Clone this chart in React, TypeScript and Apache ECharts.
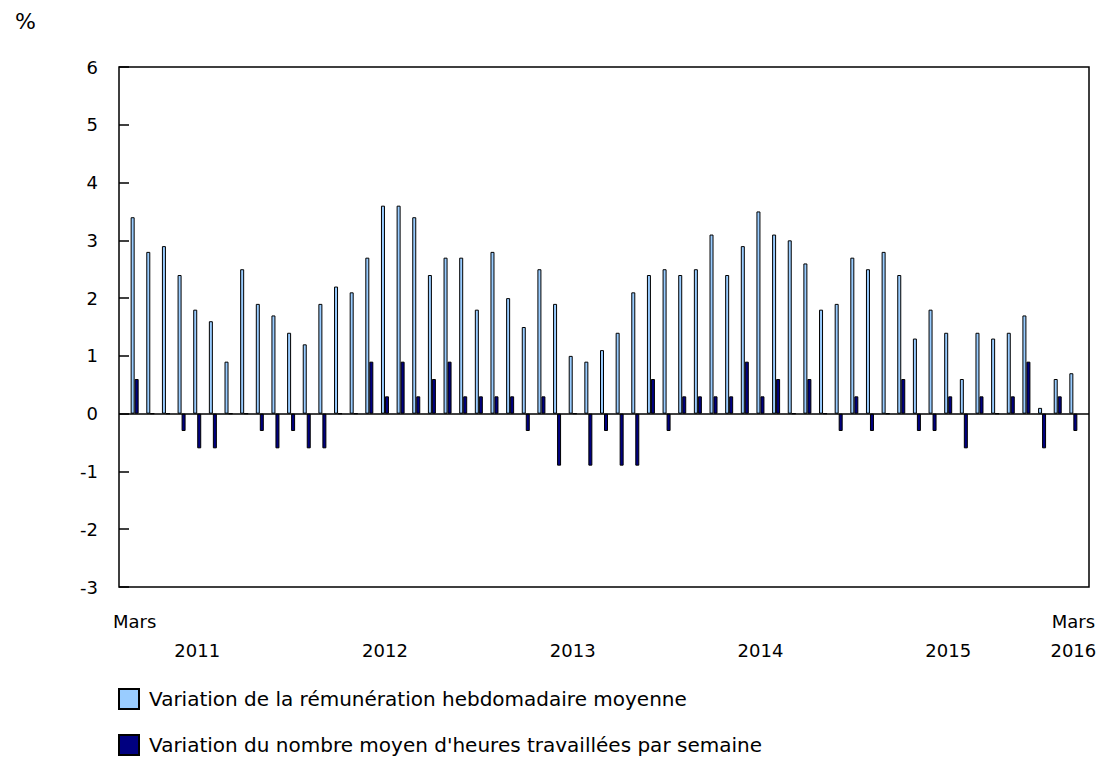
import React, { useEffect, useRef } from 'react';
import * as echarts from 'echarts';

const months: string[] = [
  'mars 2011', 'avr. 2011', 'mai 2011', 'juin 2011', 'juil. 2011', 'août 2011', 'sept. 2011', 'oct. 2011', 'nov. 2011', 'déc. 2011',
  'janv. 2012', 'févr. 2012', 'mars 2012', 'avr. 2012', 'mai 2012', 'juin 2012', 'juil. 2012', 'août 2012', 'sept. 2012', 'oct. 2012', 'nov. 2012', 'déc. 2012',
  'janv. 2013', 'févr. 2013', 'mars 2013', 'avr. 2013', 'mai 2013', 'juin 2013', 'juil. 2013', 'août 2013', 'sept. 2013', 'oct. 2013', 'nov. 2013', 'déc. 2013',
  'janv. 2014', 'févr. 2014', 'mars 2014', 'avr. 2014', 'mai 2014', 'juin 2014', 'juil. 2014', 'août 2014', 'sept. 2014', 'oct. 2014', 'nov. 2014', 'déc. 2014',
  'janv. 2015', 'févr. 2015', 'mars 2015', 'avr. 2015', 'mai 2015', 'juin 2015', 'juil. 2015', 'août 2015', 'sept. 2015', 'oct. 2015', 'nov. 2015', 'déc. 2015',
  'janv. 2016', 'févr. 2016', 'mars 2016',
];

const remuneration: number[] = [
  3.4, 2.8, 2.9, 2.4, 1.8, 1.6, 0.9, 2.5, 1.9, 1.7, 1.4, 1.2, 1.9, 2.2, 2.1,
  2.7, 3.6, 3.6, 3.4, 2.4, 2.7, 2.7, 1.8, 2.8, 2.0, 1.5, 2.5, 1.9, 1.0, 0.9,
  1.1, 1.4, 2.1, 2.4, 2.5, 2.4, 2.5, 3.1, 2.4, 2.9, 3.5, 3.1, 3.0, 2.6, 1.8,
  1.9, 2.7, 2.5, 2.8, 2.4, 1.3, 1.8, 1.4, 0.6, 1.4, 1.3, 1.4, 1.7, 0.1, 0.6, 0.7,
];

const heures: number[] = [
  0.6, 0, 0, -0.3, -0.6, -0.6, 0, 0, -0.3, -0.6, -0.3, -0.6, -0.6, 0, 0,
  0.9, 0.3, 0.9, 0.3, 0.6, 0.9, 0.3, 0.3, 0.3, 0.3, -0.3, 0.3, -0.9, 0, -0.9,
  -0.3, -0.9, -0.9, 0.6, -0.3, 0.3, 0.3, 0.3, 0.3, 0.9, 0.3, 0.6, 0, 0.6, 0,
  -0.3, 0.3, -0.3, 0, 0.6, -0.3, -0.3, 0.3, -0.6, 0.3, 0, 0.3, 0.9, -0.6, 0.3, -0.3,
];

const bottomLabels: Record<string, string> = {
  'mars 2011': 'Mars\n',
  'juil. 2011': '\n2011',
  'juil. 2012': '\n2012',
  'juil. 2013': '\n2013',
  'juil. 2014': '\n2014',
  'juil. 2015': '\n2015',
  'mars 2016': 'Mars\n2016',
};

const seriesNames = [
  'Variation de la rémunération hebdomadaire moyenne',
  "Variation du nombre moyen d'heures travaillées par semaine",
];

const yMin = -3;
const yMax = 6;
const yStep = 1;

const FONT = 'DejaVu Sans';

const legendFor = (name: string, top: number) => ({
  orient: 'vertical',
  left: 118,
  top,
  padding: 0,
  itemWidth: 20,
  itemHeight: 20,
  icon: 'rect',
  data: [name],
  selectedMode: false,
  textStyle: { fontFamily: FONT, fontSize: 20, color: '#000', lineHeight: 22, padding: [0, 0, 0, 5] },
});

export default function App() {
  const ref = useRef<HTMLDivElement>(null);
  useEffect(() => {
    if (!ref.current) return;
    const chart = echarts.init(ref.current, null, { renderer: 'svg' });
    const axisCats = ['__debut', ...months, '__fin'];
    const pad = (arr: number[]) => [null, ...arr, null];
    chart.setOption({
      animation: false,
      textStyle: { fontFamily: FONT },
      title: {
        text: '%',
        left: 10,
        top: 5,
        textStyle: { fontFamily: FONT, fontSize: 22, fontWeight: 'normal', color: '#000' },
      },
      grid: {
        left: 119,
        right: 13,
        top: 67,
        bottom: 170,
        show: true,
        borderColor: '#000',
        borderWidth: 1.5,
        backgroundColor: 'transparent',
      },
      legend: [legendFor(seriesNames[0], 688), legendFor(seriesNames[1], 734)],
      xAxis: {
        type: 'category',
        data: axisCats,
        boundaryGap: false,
        axisLine: { show: false },
        axisTick: { show: false },
        splitLine: { show: false },
        axisLabel: {
          interval: 0,
          margin: 20,
          fontFamily: FONT,
          fontSize: 18,
          lineHeight: 29,
          color: '#000',
          formatter: (v: string) => bottomLabels[v] ?? '',
        },
      },
      yAxis: {
        type: 'value',
        min: yMin,
        max: yMax,
        interval: yStep,
        axisLine: { show: false },
        axisTick: { show: true, inside: true, length: 10, lineStyle: { color: '#000', width: 1.5 } },
        splitLine: { show: false },
        axisLabel: { margin: 21, fontFamily: FONT, fontSize: 18, color: '#000' },
      },
      series: [
        {
          name: seriesNames[0],
          type: 'bar',
          data: pad(remuneration),
          barWidth: 4,
          barGap: '0%',
          itemStyle: { color: '#99CCFF', borderColor: '#000', borderWidth: 1 },
          markLine: {
            silent: true,
            symbol: ['none', 'none'],
            label: { show: false },
            lineStyle: { color: '#000', width: 1.5, type: 'solid' },
            data: [{ yAxis: 0 }],
          },
        },
        {
          name: seriesNames[1],
          type: 'bar',
          data: pad(heures),
          barWidth: 4,
          barGap: '0%',
          itemStyle: { color: '#000080', borderColor: '#000', borderWidth: 1 },
        },
      ],
    });
    return () => chart.dispose();
  }, []);
  return <div ref={ref} style={{ position: 'absolute', left: 0, top: 0, width: 1102, height: 757 }} />;
}
